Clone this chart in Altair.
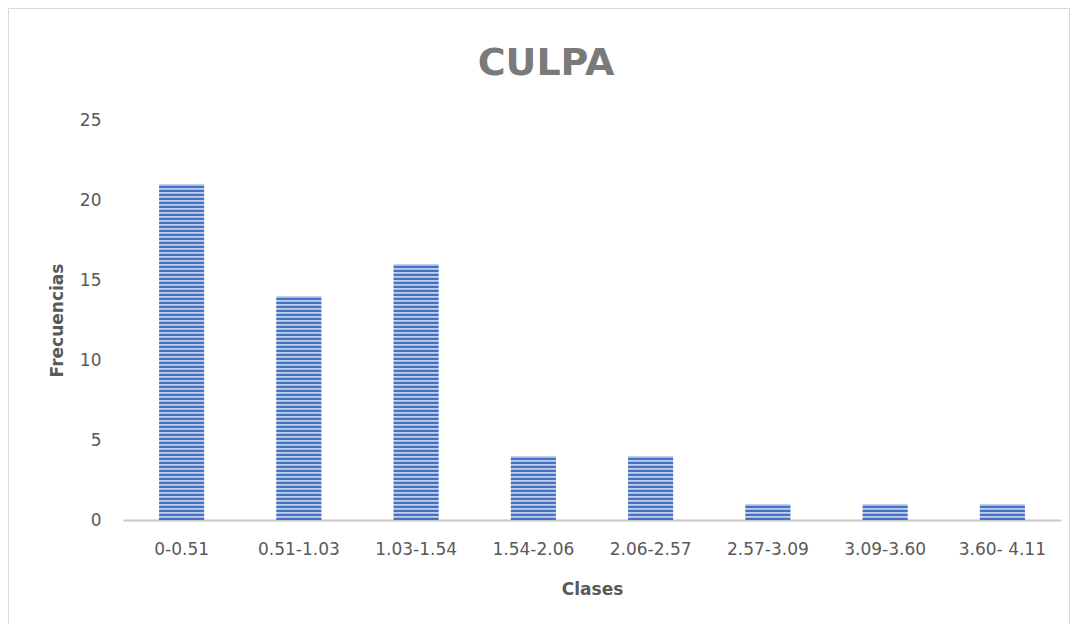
import altair as alt
import pandas as pd

clases = ["0-0.51", "0.51-1.03", "1.03-1.54", "1.54-2.06", "2.06-2.57", "2.57-3.09", "3.09-3.60", "3.60- 4.11"]
frecuencias = [21, 14, 16, 4, 4, 1, 1, 1]
y_ticks = [0, 5, 10, 15, 20, 25]
titulo = "CULPA"

df = pd.DataFrame({"Clases": clases, "Frecuencias": frecuencias})

W, H = 938, 400
PL, PT, PR, PB = 115, 112, 9, 104
FONT = "DejaVu Sans"
GREY = "#595959"

x_scale = alt.Scale(paddingInner=0.616, paddingOuter=0.308)
x_enc = alt.X("Clases:N", sort=clases, scale=x_scale,
              axis=alt.Axis(title="Clases", labelAngle=0, labelFont=FONT, labelFontSize=17,
                            labelColor=GREY, labelPadding=21, ticks=False,
                            domainColor="#c8c8c8", domainWidth=2,
                            titleFont=FONT, titleFontSize=17, titleFontWeight="bold",
                            titleColor=GREY, titlePadding=24))

y_scale = alt.Scale(domain=[0, 25])

base = alt.Chart(df)

bars = base.mark_bar(color="#c3d0ee").encode(
    x=x_enc,
    y=alt.Y("Frecuencias:Q", scale=y_scale,
            axis=alt.Axis(values=y_ticks, title="Frecuencias", grid=False, domain=False, ticks=False,
                          labelFont=FONT, labelFontSize=17, labelColor=GREY, labelPadding=22,
                          titleFont=FONT, titleFontSize=17, titleFontWeight="bold",
                          titleColor=GREY, titleX=-66, titleY=200, titleAngle=-90,
                          titleAlign="center", titleBaseline="middle")),
)

stripes = base.transform_calculate(
    s="sequence(0, datum.Frecuencias, 0.25)"
).transform_flatten(["s"]).transform_calculate(
    s2="datum.s + 0.135"
).mark_bar(color="#4472c4").encode(
    x=alt.X("Clases:N", sort=clases, scale=x_scale),
    y=alt.Y("s:Q", scale=y_scale),
    y2="s2:Q",
)

one = pd.DataFrame({"t": [titulo]})

border = alt.Chart(one).mark_rect(
    fill="transparent", stroke="#d9d9d9", strokeWidth=1
).encode(
    x=alt.value(-PL + 0.5), x2=alt.value(W + PR - 0.5),
    y=alt.value(-PT + 0.5), y2=alt.value(H + PB + 5),
)

title = alt.Chart(one).mark_text(
    font=FONT, fontSize=38, fontWeight="bold", color="#7a7a7a",
    align="center", baseline="alphabetic"
).encode(
    text="t:N", x=alt.value(423), y=alt.value(-45),
)

chart = alt.layer(border, title, bars, stripes).properties(
    width=W, height=H,
    background="white",
    autosize=alt.AutoSizeParams(type="none"),
    padding={"left": PL, "top": PT, "right": PR, "bottom": PB},
).configure_view(stroke="transparent", strokeWidth=0)

chart.save("out.html", embed_options={"renderer": "svg", "actions": False})
